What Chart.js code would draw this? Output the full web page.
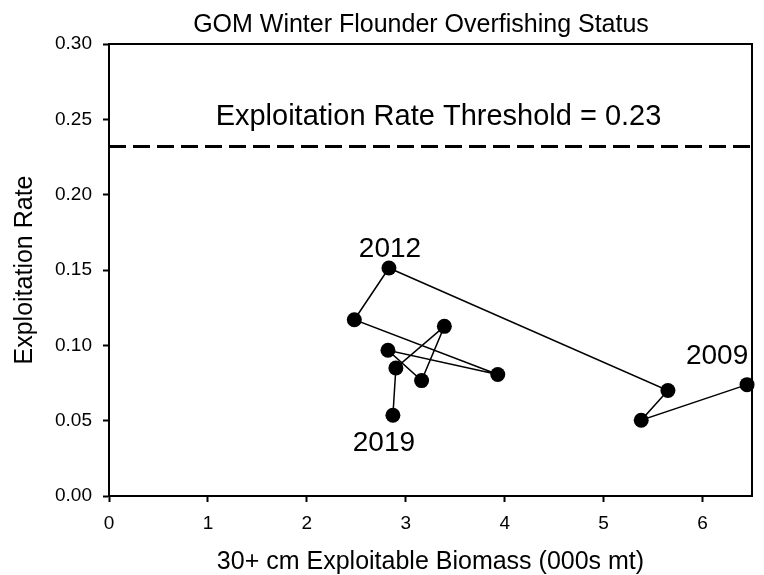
<!DOCTYPE html>
<html>
<head>
<meta charset="utf-8">
<script src="https://cdn.jsdelivr.net/npm/chart.js@4.4.1/dist/chart.umd.min.js"></script>
<style>
  html, body { margin: 0; padding: 0; background: #fff; }
  #wrap { width: 764px; height: 575px; }
</style>
</head>
<body>
<div id="wrap"><canvas id="c" width="764" height="575"></canvas></div>
<script>
const years = [2009, 2010, 2011, 2012, 2013, 2014, 2015, 2016, 2017, 2018, 2019];
const biomass = [6.45, 5.38, 5.65, 2.83, 2.48, 3.93, 2.82, 3.16, 3.39, 2.90, 2.87];
const exploitation = [0.0739, 0.0503, 0.0700, 0.1513, 0.1170, 0.0806, 0.0967, 0.0766, 0.1126, 0.0850, 0.0536];
const threshold = 0.232;
const thresholdLabel = "Exploitation Rate Threshold = 0.23";
const labelledYears = [2009, 2012, 2019];
const xTicks = [0, 1, 2, 3, 4, 5, 6];
const yTicks = [0.00, 0.05, 0.10, 0.15, 0.20, 0.25, 0.30];

const FONT = "'Liberation Sans', Arial, sans-serif";

const points = years.map((y, i) => ({ x: biomass[i], y: exploitation[i] }));

const annot = {
  id: 'annot',
  afterDraw(chart) {
    const ctx = chart.ctx;
    const xs = chart.scales.x, ys = chart.scales.y;
    const ca = chart.chartArea;
    ctx.save();
    ctx.strokeStyle = '#000';
    ctx.lineWidth = 2;
    ctx.beginPath();
    ctx.moveTo(ca.left, ca.top);
    ctx.lineTo(ca.right, ca.top);
    ctx.lineTo(ca.right, ca.bottom);
    ctx.stroke();
    ctx.fillStyle = '#000';
    ctx.textAlign = 'center';
    ctx.textBaseline = 'alphabetic';
    ctx.font = '25px ' + FONT;
    ctx.fillText('GOM Winter Flounder Overfishing Status', 421, 32);
    ctx.font = '29px ' + FONT;
    ctx.fillText(thresholdLabel, (ca.left + ca.right) / 2 + 8, ys.getPixelForValue(threshold) - 21);
    ctx.font = '28px ' + FONT;
    const offs = { 2009: [-30, -21], 2012: [1, -11], 2019: [-9, 36] };
    labelledYears.forEach(yr => {
      const i = years.indexOf(yr);
      const px = xs.getPixelForValue(biomass[i]);
      const py = ys.getPixelForValue(exploitation[i]);
      const o = offs[yr];
      ctx.fillText(String(yr), px + o[0], py + o[1]);
    });
    ctx.restore();
  }
};

new Chart(document.getElementById('c'), {
  type: 'scatter',
  data: {
    datasets: [
      {
        data: points,
        showLine: true,
        borderColor: '#000',
        borderWidth: 1.5,
        backgroundColor: '#000',
        pointRadius: 7.5,
        pointBackgroundColor: '#000',
        pointBorderWidth: 0,
        clip: false,
        order: 1
      },
      {
        data: [{ x: 0, y: threshold }, { x: 6.5, y: threshold }],
        showLine: true,
        borderColor: '#000',
        borderWidth: 3,
        borderDash: [17, 7],
        pointRadius: 0,
        order: 2
      }
    ]
  },
  options: {
    responsive: false,
    animation: false,
    events: [],
    layout: { padding: { left: 0, right: 12, top: 44, bottom: 0 } },
    plugins: { legend: { display: false }, tooltip: { enabled: false }, title: { display: false } },
    scales: {
      x: {
        type: 'linear',
        min: 0, max: 6.5,
        afterBuildTicks(s) { s.ticks = xTicks.map(v => ({ value: v })); },
        afterFit(s) { s.height = 79; },
        grid: { drawOnChartArea: false, drawTicks: true, tickLength: 6, color: '#000', tickWidth: 2 },
        border: { display: true, color: '#000', width: 2 },
        ticks: { color: '#000', font: { family: FONT, size: 19 }, padding: 10, maxRotation: 0, callback: v => String(v) },
        title: { display: true, text: '30+ cm Exploitable Biomass (000s mt)', color: '#000', font: { family: FONT, size: 25, lineHeight: 1 }, padding: { top: 0, bottom: 0 } }
      },
      y: {
        type: 'linear',
        min: 0, max: 0.30,
        afterBuildTicks(s) { s.ticks = yTicks.map(v => ({ value: v })); },
        afterFit(s) { s.width = 109; },
        grid: { drawOnChartArea: false, drawTicks: true, tickLength: 6, color: '#000', tickWidth: 2 },
        border: { display: true, color: '#000', width: 2 },
        ticks: { color: '#000', font: { family: FONT, size: 19 }, padding: 11, callback: v => Number(v).toFixed(2) },
        title: { display: true, text: 'Exploitation Rate', color: '#000', font: { family: FONT, size: 25, lineHeight: 1 }, padding: { top: 12.5, bottom: 0 } }
      }
    }
  },
  plugins: [annot]
});
</script>
</body>
</html>
